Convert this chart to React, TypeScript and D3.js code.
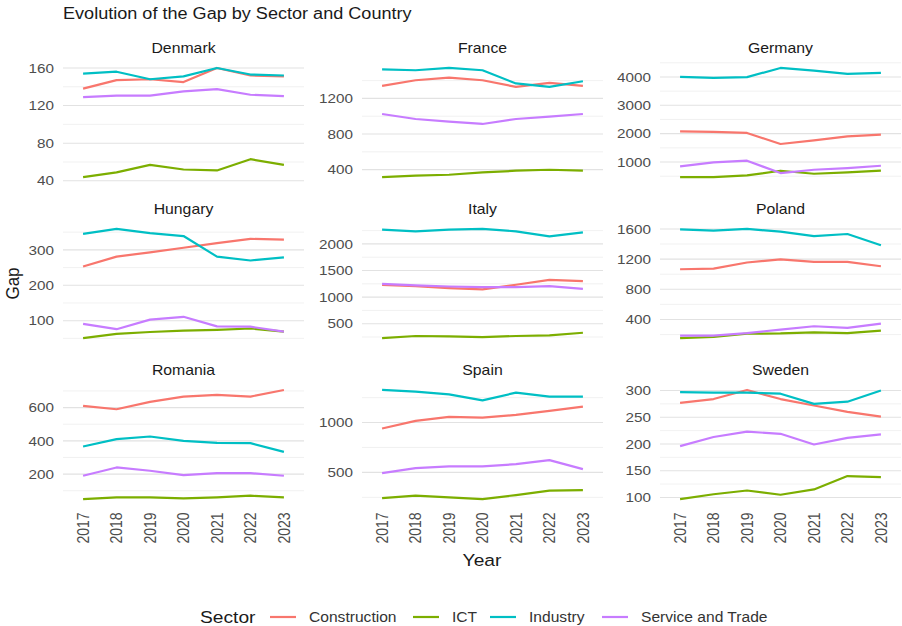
import React from "react";
import * as d3 from "d3";

const years = ["2017", "2018", "2019", "2020", "2021", "2022", "2023"];
const sectors = ["Construction", "ICT", "Industry", "Service and Trade"];
const sectorColors = ["#F8766D", "#7CAE00", "#00BFC4", "#C77CFF"];
const countries = ["Denmark", "France", "Germany", "Hungary", "Italy", "Poland", "Romania", "Spain", "Sweden"];

// each country: [Construction, ICT, Industry, Service and Trade]
const denmarkGap = [
  [138, 147, 148, 145, 160, 152, 151],
  [44, 49, 57, 52, 51, 63, 57],
  [154, 156, 148, 151, 160, 153, 152],
  [129, 130.5, 130.5, 135, 137.5, 131.5, 130],
];
const franceGap = [
  [1341, 1404, 1434, 1404, 1330, 1375, 1341],
  [317, 332, 343, 369, 388, 399, 388],
  [1527, 1516, 1542, 1516, 1368, 1330, 1393],
  [1025, 969, 939, 913, 969, 995, 1025],
];
const germanyGap = [
  [2082, 2060, 2025, 1636, 1763, 1905, 1965],
  [470, 470, 527, 693, 587, 633, 693],
  [4000, 3965, 3995, 4318, 4222, 4106, 4141],
  [845, 986, 1046, 611, 728, 788, 869],
];
const hungaryGap = [
  [253, 281, 293, 306, 319, 331, 329],
  [51, 63, 68, 72, 74, 78, 69],
  [345, 359, 347, 339, 281, 270, 279],
  [91, 76, 103, 111, 84, 83, 69],
];
const italyGap = [
  [1232, 1206, 1169, 1144, 1232, 1325, 1300],
  [231, 269, 262, 250, 269, 281, 331],
  [2268, 2237, 2268, 2281, 2237, 2143, 2218],
  [1250, 1219, 1200, 1188, 1188, 1206, 1156],
];
const polandGap = [
  [1066, 1075, 1155, 1196, 1164, 1164, 1106],
  [154, 168, 212, 215, 230, 220, 253],
  [1595, 1578, 1600, 1564, 1506, 1533, 1385],
  [185, 185, 220, 266, 310, 288, 346],
];
const romaniaGap = [
  [610, 590, 634, 666, 676, 666, 706],
  [50, 60, 60, 54, 60, 70, 60],
  [366, 410, 426, 400, 388, 386, 334],
  [190, 240, 220, 194, 206, 206, 190],
];
const spainGap = [
  [940, 1017, 1057, 1050, 1077, 1117, 1160],
  [243, 267, 250, 233, 273, 317, 323],
  [1327, 1310, 1283, 1223, 1300, 1260, 1260],
  [493, 543, 560, 560, 583, 623, 533],
];
const swedenGap = [
  [277, 284, 301, 284, 272, 260, 251],
  [97, 106, 113, 105, 115, 140, 138],
  [297, 296, 296, 294, 275, 279, 300],
  [196, 213, 223, 219, 199, 211.5, 218],
];
const countryGaps = [denmarkGap, franceGap, germanyGap, hungaryGap, italyGap, polandGap, romaniaGap, spainGap, swedenGap];

const yTickValues = [
  [40, 80, 120, 160],
  [400, 800, 1200],
  [1000, 2000, 3000, 4000],
  [100, 200, 300],
  [500, 1000, 1500, 2000],
  [400, 800, 1200, 1600],
  [200, 400, 600],
  [500, 1000],
  [100, 150, 200, 250, 300],
];

const SX = 1.13;
const FONT = "'Liberation Sans', Arial, Helvetica, sans-serif";

function T(props: any) {
  const { x, y, rot, anchor, size, fill, baseline, children } = props;
  const tr = `translate(${x},${y}) scale(${SX},1)` + (rot ? ` rotate(${rot})` : "");
  return (
    <text
      transform={tr}
      textAnchor={anchor || "start"}
      fontSize={size}
      fill={fill || "#1A1A1A"}
      fontFamily={FONT}
      dominantBaseline={baseline || "auto"}
    >
      {children}
    </text>
  );
}

const W = 902;
const H = 626;
const colLefts = [63, 362, 660];
const rowTops = [62.5, 223.5, 384.5];
const PW = 241;
const PH = 120;

function Panel({ idx }: { idx: number }) {
  const col = idx % 3;
  const row = Math.floor(idx / 3);
  const left = colLefts[col];
  const top = rowTops[row];
  const series = countryGaps[idx];
  const all = series.flat();
  const mn = d3.min(all) as number;
  const mx = d3.max(all) as number;
  const pad = (mx - mn) * 0.05;
  const y = d3.scaleLinear().domain([mn - pad, mx + pad]).range([top + PH, top]);
  const x = d3.scalePoint<string>().domain(years).range([left, left + PW]).padding(0.6);
  const majors = yTickValues[idx];
  const step = majors.length > 1 ? majors[1] - majors[0] : 100;
  const minors: number[] = [];
  for (let v = majors[0] - step / 2; v <= majors[majors.length - 1] + step; v += step) minors.push(v);
  const [d0, d1] = y.domain();
  const inDom = (v: number) => v >= d0 && v <= d1;
  const line = d3
    .line<number>()
    .x((_, i) => x(years[i]) as number)
    .y((d) => y(d));
  return (
    <g>
      {minors.filter(inDom).map((v) => (
        <line key={"mi" + v} x1={left} x2={left + PW} y1={y(v)} y2={y(v)} stroke="#EDEDED" strokeWidth={0.8} />
      ))}
      {majors.filter(inDom).map((v) => (
        <line key={"ma" + v} x1={left} x2={left + PW} y1={y(v)} y2={y(v)} stroke="#E2E2E2" strokeWidth={1.1} />
      ))}
      {majors.filter(inDom).map((v) => (
        <T key={"yt" + v} x={left - 9} y={y(v)} anchor="end" size={13.5} fill="#4D4D4D" baseline="central">
          {String(v)}
        </T>
      ))}
      {series.map((s, i) => (
        <path key={"s" + i} d={line(s) || ""} fill="none" stroke={sectorColors[i]} strokeWidth={2.2} strokeLinejoin="round" />
      ))}
      <T x={left + PW / 2} y={top - 10} anchor="middle" size={14} fill="#1A1A1A">
        {countries[idx]}
      </T>
      {row === 2 &&
        years.map((yr) => (
          <T key={"xt" + yr} x={x(yr)} y={top + PH + 8} rot={-90} anchor="end" size={14} fill="#4D4D4D" baseline="central">
            {yr}
          </T>
        ))}
    </g>
  );
}

const legendKeyX = [270, 413, 490, 602];

export default function App() {
  return (
    <svg width={W} height={H} style={{ position: "absolute", left: 0, top: 0, background: "#fff" }}>
      <rect x={0} y={0} width={W} height={H} fill="#fff" />
      <T x={63} y={19} size={16} fill="#1A1A1A">
        Evolution of the Gap by Sector and Country
      </T>
      {countries.map((_, i) => (
        <Panel key={i} idx={i} />
      ))}
      <T x={18.5} y={283.5} rot={-90} anchor="middle" size={17} fill="#1A1A1A">
        Gap
      </T>
      <T x={482} y={566} anchor="middle" size={17} fill="#1A1A1A">
        Year
      </T>
      <T x={200} y={617} size={17} fill="#1A1A1A" baseline="central">
        Sector
      </T>
      {sectors.map((s, i) => (
        <g key={s}>
          <line x1={legendKeyX[i]} x2={legendKeyX[i] + 26} y1={617} y2={617} stroke={sectorColors[i]} strokeWidth={2.2} />
          <T x={legendKeyX[i] + 39} y={617} size={13.8} fill="#333333" baseline="central">
            {s}
          </T>
        </g>
      ))}
    </svg>
  );
}
